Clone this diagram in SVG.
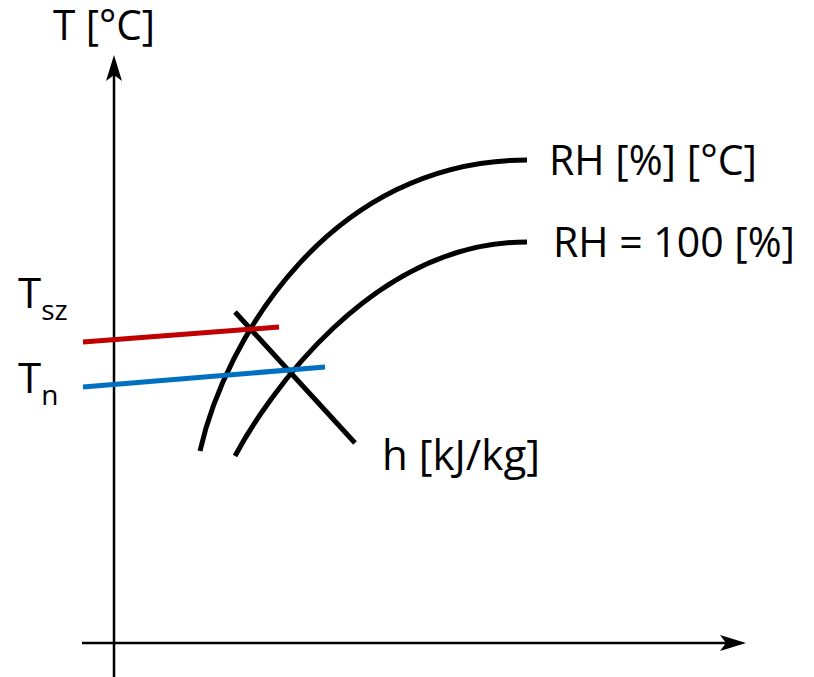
<svg xmlns="http://www.w3.org/2000/svg" width="814" height="677" viewBox="0 0 814 677">
<style>
.lbl{font-family:"Open Sans","Noto Sans",sans-serif;font-size:42px;fill:#000}
.sub{font-family:"Open Sans","Noto Sans",sans-serif;font-size:28px;fill:#000}
.axis{stroke:#000;stroke-width:2.5;fill:none}
.curve{stroke:#000;stroke-width:5;fill:none}
</style>
<rect width="814" height="677" fill="#fff"/>
<g id="axes">
<line class="axis" x1="114" y1="677" x2="114" y2="70"/>
<polygon points="114,55 122,81 114,75 106,81" fill="#000"/>
<line class="axis" x1="82" y1="643" x2="735" y2="643"/>
<polygon points="746,643 720,651 726,643 720,635" fill="#000"/>
</g>
<g id="connectors">
<path id="rh-curve" class="curve" d="M200,451 C225,340 330,160 527,160"/>
<path id="rh100-curve" class="curve" d="M235,456 C265,400 370,242 527,242"/>
<line id="h-line" class="curve" x1="235" y1="312" x2="355" y2="443"/>
<line id="tsz-line" x1="83" y1="342" x2="279" y2="327" stroke="#C00000" stroke-width="5"/>
<line id="tn-line" x1="83" y1="387" x2="325" y2="367" stroke="#0070C0" stroke-width="5"/>
</g>
<g id="label-T"><text class="lbl" x="53" y="40" textLength="102" lengthAdjust="spacingAndGlyphs">T [°C]</text></g>
<g id="label-RH"><text class="lbl" x="549" y="175" textLength="208" lengthAdjust="spacingAndGlyphs">RH [%] [°C]</text></g>
<g id="label-RH100"><text class="lbl" x="553" y="257" textLength="242" lengthAdjust="spacingAndGlyphs">RH = 100 [%]</text></g>
<g id="label-h"><text class="lbl" x="382" y="470" textLength="158" lengthAdjust="spacingAndGlyphs">h [kJ/kg]</text></g>
<g id="label-Tsz"><text class="lbl" x="18" y="308">T<tspan class="sub" dy="12">sz</tspan></text></g>
<g id="label-Tn"><text class="lbl" x="18" y="393">T<tspan class="sub" dy="12">n</tspan></text></g>
</svg>
